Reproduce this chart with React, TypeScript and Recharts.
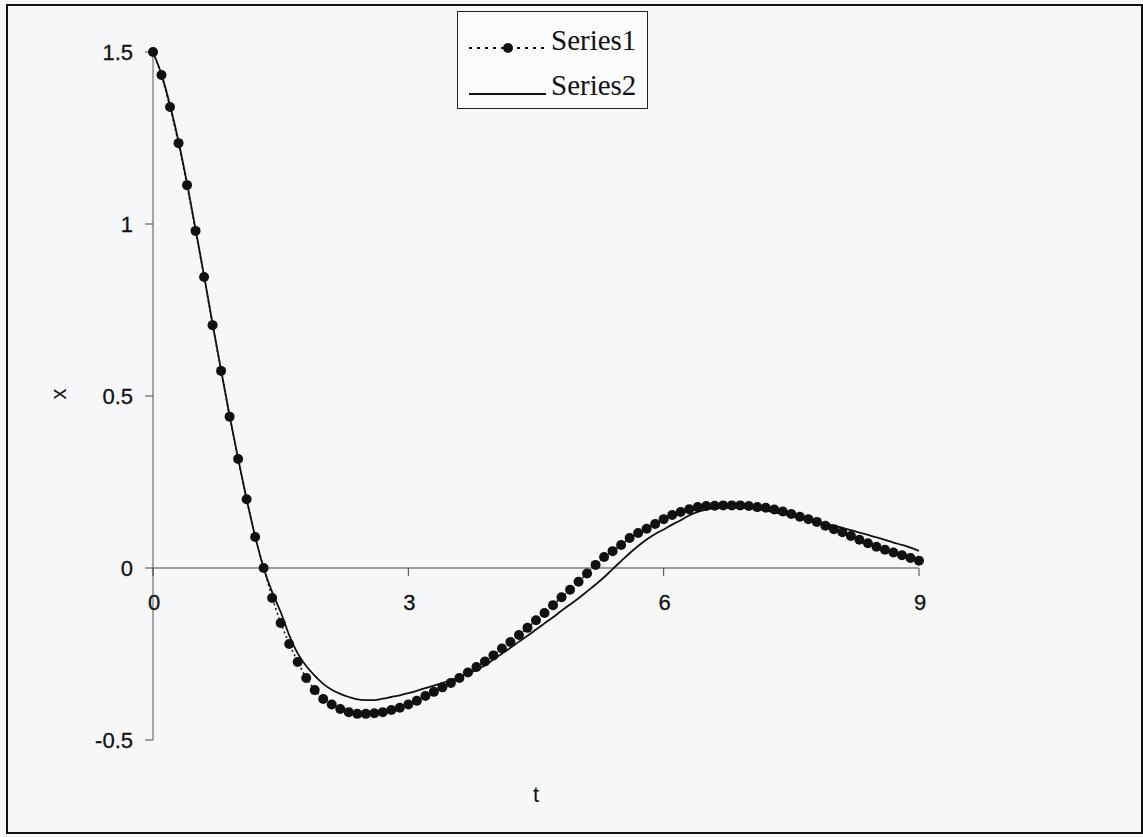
import { Line, LineChart, ReferenceDot, ReferenceLine, XAxis, YAxis } from 'recharts'

const times = [
  0, 0.1, 0.2, 0.3, 0.4, 0.5, 0.6, 0.7, 0.8, 0.9,
  1, 1.1, 1.2, 1.3, 1.4, 1.5, 1.6, 1.7, 1.8, 1.9,
  2, 2.1, 2.2, 2.3, 2.4, 2.5, 2.6, 2.7, 2.8, 2.9,
  3, 3.1, 3.2, 3.3, 3.4, 3.5, 3.6, 3.7, 3.8, 3.9,
  4, 4.1, 4.2, 4.3, 4.4, 4.5, 4.6, 4.7, 4.8, 4.9,
  5, 5.1, 5.2, 5.3, 5.4, 5.5, 5.6, 5.7, 5.8, 5.9,
  6, 6.1, 6.2, 6.3, 6.4, 6.5, 6.6, 6.7, 6.8, 6.9,
  7, 7.1, 7.2, 7.3, 7.4, 7.5, 7.6, 7.7, 7.8, 7.9,
  8, 8.1, 8.2, 8.3, 8.4, 8.5, 8.6, 8.7, 8.8, 8.9,
  9,
]

const series1 = [
  1.5, 1.433, 1.34, 1.235, 1.113, 0.98, 0.846, 0.706, 0.573, 0.44,
  0.317, 0.2, 0.09, 0.0, -0.087, -0.16, -0.221, -0.273, -0.32, -0.355,
  -0.381, -0.397, -0.41, -0.419, -0.424, -0.424, -0.422, -0.419, -0.413, -0.406,
  -0.397, -0.386, -0.372, -0.36, -0.347, -0.334, -0.32, -0.304, -0.288, -0.272,
  -0.254, -0.234, -0.215, -0.195, -0.174, -0.152, -0.131, -0.108, -0.085, -0.063,
  -0.04, -0.016, 0.009, 0.032, 0.049, 0.067, 0.087, 0.102, 0.114, 0.128,
  0.142, 0.154, 0.163, 0.171, 0.177, 0.18, 0.181, 0.182, 0.182, 0.182,
  0.18, 0.177, 0.175, 0.17, 0.164, 0.157, 0.149, 0.142, 0.134, 0.123,
  0.113, 0.104, 0.093, 0.082, 0.072, 0.062, 0.053, 0.045, 0.037, 0.029,
  0.021,
]

const series2 = [
  1.5, 1.435, 1.345, 1.24, 1.118, 0.985, 0.85, 0.71, 0.575, 0.443,
  0.318, 0.2, 0.092, 0.0, -0.07, -0.128, -0.195, -0.248, -0.285, -0.313,
  -0.337, -0.354, -0.366, -0.375, -0.382, -0.384, -0.384, -0.38, -0.375, -0.37,
  -0.364, -0.357, -0.349, -0.342, -0.334, -0.326, -0.317, -0.307, -0.297, -0.283,
  -0.266, -0.249, -0.232, -0.214, -0.197, -0.179, -0.161, -0.143, -0.124, -0.106,
  -0.088, -0.068, -0.048, -0.027, -0.003, 0.02, 0.043, 0.064, 0.083, 0.099,
  0.112, 0.126, 0.139, 0.153, 0.163, 0.17, 0.174, 0.175, 0.175, 0.175,
  0.174, 0.171, 0.167, 0.162, 0.157, 0.151, 0.146, 0.141, 0.135, 0.129,
  0.123, 0.117, 0.11, 0.103, 0.096, 0.089, 0.082, 0.074, 0.067, 0.059,
  0.05,
]

const seriesNames = ['Series1', 'Series2']
const xTicks = [0, 3, 6, 9]
const yTicks = [-0.5, 0, 0.5, 1, 1.5]

const data = times.map((t, i) => ({ t, s1: series1[i], s2: series2[i] }))

const INK = '#111111'
const SANS = '"Liberation Sans", Arial, sans-serif'
const SERIF = '"Liberation Serif", "Times New Roman", serif'

function renderXTick(value: number) {
  return (props: { cx?: number; cy?: number }) => {
    const cx = props.cx ?? 0
    const cy = props.cy ?? 0
    return (
      <g>
        <line x1={cx} y1={cy} x2={cx} y2={cy + 8} stroke="#444" strokeWidth={1} />
        <text
          x={cx + 1}
          y={cy + 42}
          textAnchor="middle"
          fontSize={22}
          fontFamily={SANS}
          fill={INK}
          stroke={INK}
          strokeWidth={0.3}
        >
          {value}
        </text>
      </g>
    )
  }
}

function YTitle(props: any) {
  const vb = props.viewBox ?? { x: 53, y: 52, width: 100, height: 688 }
  const x = vb.x + 5
  const y = vb.y + vb.height / 2 - 2
  return (
    <text
      x={x}
      y={y}
      transform={`rotate(-90 ${x} ${y})`}
      textAnchor="middle"
      dominantBaseline="central"
      fontSize={22}
      fontFamily={SANS}
      fill={INK}
    >
      x
    </text>
  )
}

function XTitle(props: any) {
  const vb = props.viewBox ?? { x: 153, y: 740, width: 766, height: 97 }
  return (
    <text
      x={vb.x + vb.width / 2}
      y={vb.y + 62}
      textAnchor="middle"
      fontSize={22}
      fontFamily={SANS}
      fill={INK}
    >
      t
    </text>
  )
}

function LegendBox() {
  return (
    <div
      style={{
        position: 'absolute',
        left: 457,
        top: 11,
        width: 189,
        height: 96,
        border: '1.5px solid #222',
        background: '#fbfbfc',
        fontFamily: SERIF,
        fontSize: 29,
        color: INK,
      }}
    >
      <div style={{ position: 'absolute', left: 10, top: 20, width: 80, height: 20 }}>
        <svg width={80} height={20}>
          <line x1={1} y1={10} x2={78} y2={10} stroke={INK} strokeWidth={2} strokeDasharray="3 5" />
          <circle cx={40} cy={10} r={5} fill={INK} />
        </svg>
      </div>
      <div style={{ position: 'absolute', left: 93, top: 10, lineHeight: '36px' }}>
        {seriesNames[0]}
      </div>
      <div style={{ position: 'absolute', left: 10, top: 66, width: 80, height: 20 }}>
        <svg width={80} height={20}>
          <line x1={1} y1={10} x2={78} y2={10} stroke={INK} strokeWidth={1.8} />
        </svg>
      </div>
      <div style={{ position: 'absolute', left: 93, top: 55, lineHeight: '36px' }}>
        {seriesNames[1]}
      </div>
    </div>
  )
}

export default function App() {
  return (
    <div
      style={{
        position: 'absolute',
        left: 0,
        top: 0,
        width: 1143,
        height: 837,
        background: '#f6f7f9',
        overflow: 'hidden',
      }}
    >
      <div
        style={{
          position: 'absolute',
          left: 6,
          top: 4,
          width: 1133,
          height: 826,
          border: '2.5px solid #111',
        }}
      />
      <LineChart
        width={1143}
        height={837}
        data={data}
        margin={{ top: 52, right: 224, bottom: 0, left: 53 }}
      >
        <XAxis
          type="number"
          dataKey="t"
          domain={[0, 9]}
          ticks={xTicks}
          axisLine={false}
          tickLine={false}
          tick={false}
          height={97}
          label={<XTitle />}
        />
        <YAxis
          type="number"
          domain={[-0.5, 1.5]}
          ticks={yTicks}
          width={100}
          axisLine={{ stroke: '#555', strokeWidth: 1 }}
          tickLine={{ stroke: '#444', strokeWidth: 1 }}
          tickSize={8}
          tickMargin={12}
          tick={{ fontSize: 22, fontFamily: SANS, fill: INK, stroke: INK, strokeWidth: 0.3 }}
          label={<YTitle />}
        />
        <ReferenceLine y={0} stroke="#444" strokeWidth={1} />
        {xTicks.map((t) => (
          <ReferenceDot key={t} x={t} y={0} r={0} shape={renderXTick(t)} />
        ))}
        <Line
          type="monotone"
          dataKey="s2"
          name={seriesNames[1]}
          stroke={INK}
          strokeWidth={1.8}
          dot={false}
          isAnimationActive={false}
        />
        <Line
          type="linear"
          dataKey="s1"
          name={seriesNames[0]}
          stroke={INK}
          strokeWidth={1.5}
          strokeDasharray="2 3"
          dot={{ r: 5, fill: INK, stroke: INK, strokeWidth: 0 }}
          isAnimationActive={false}
        />
      </LineChart>
      <LegendBox />
    </div>
  )
}
